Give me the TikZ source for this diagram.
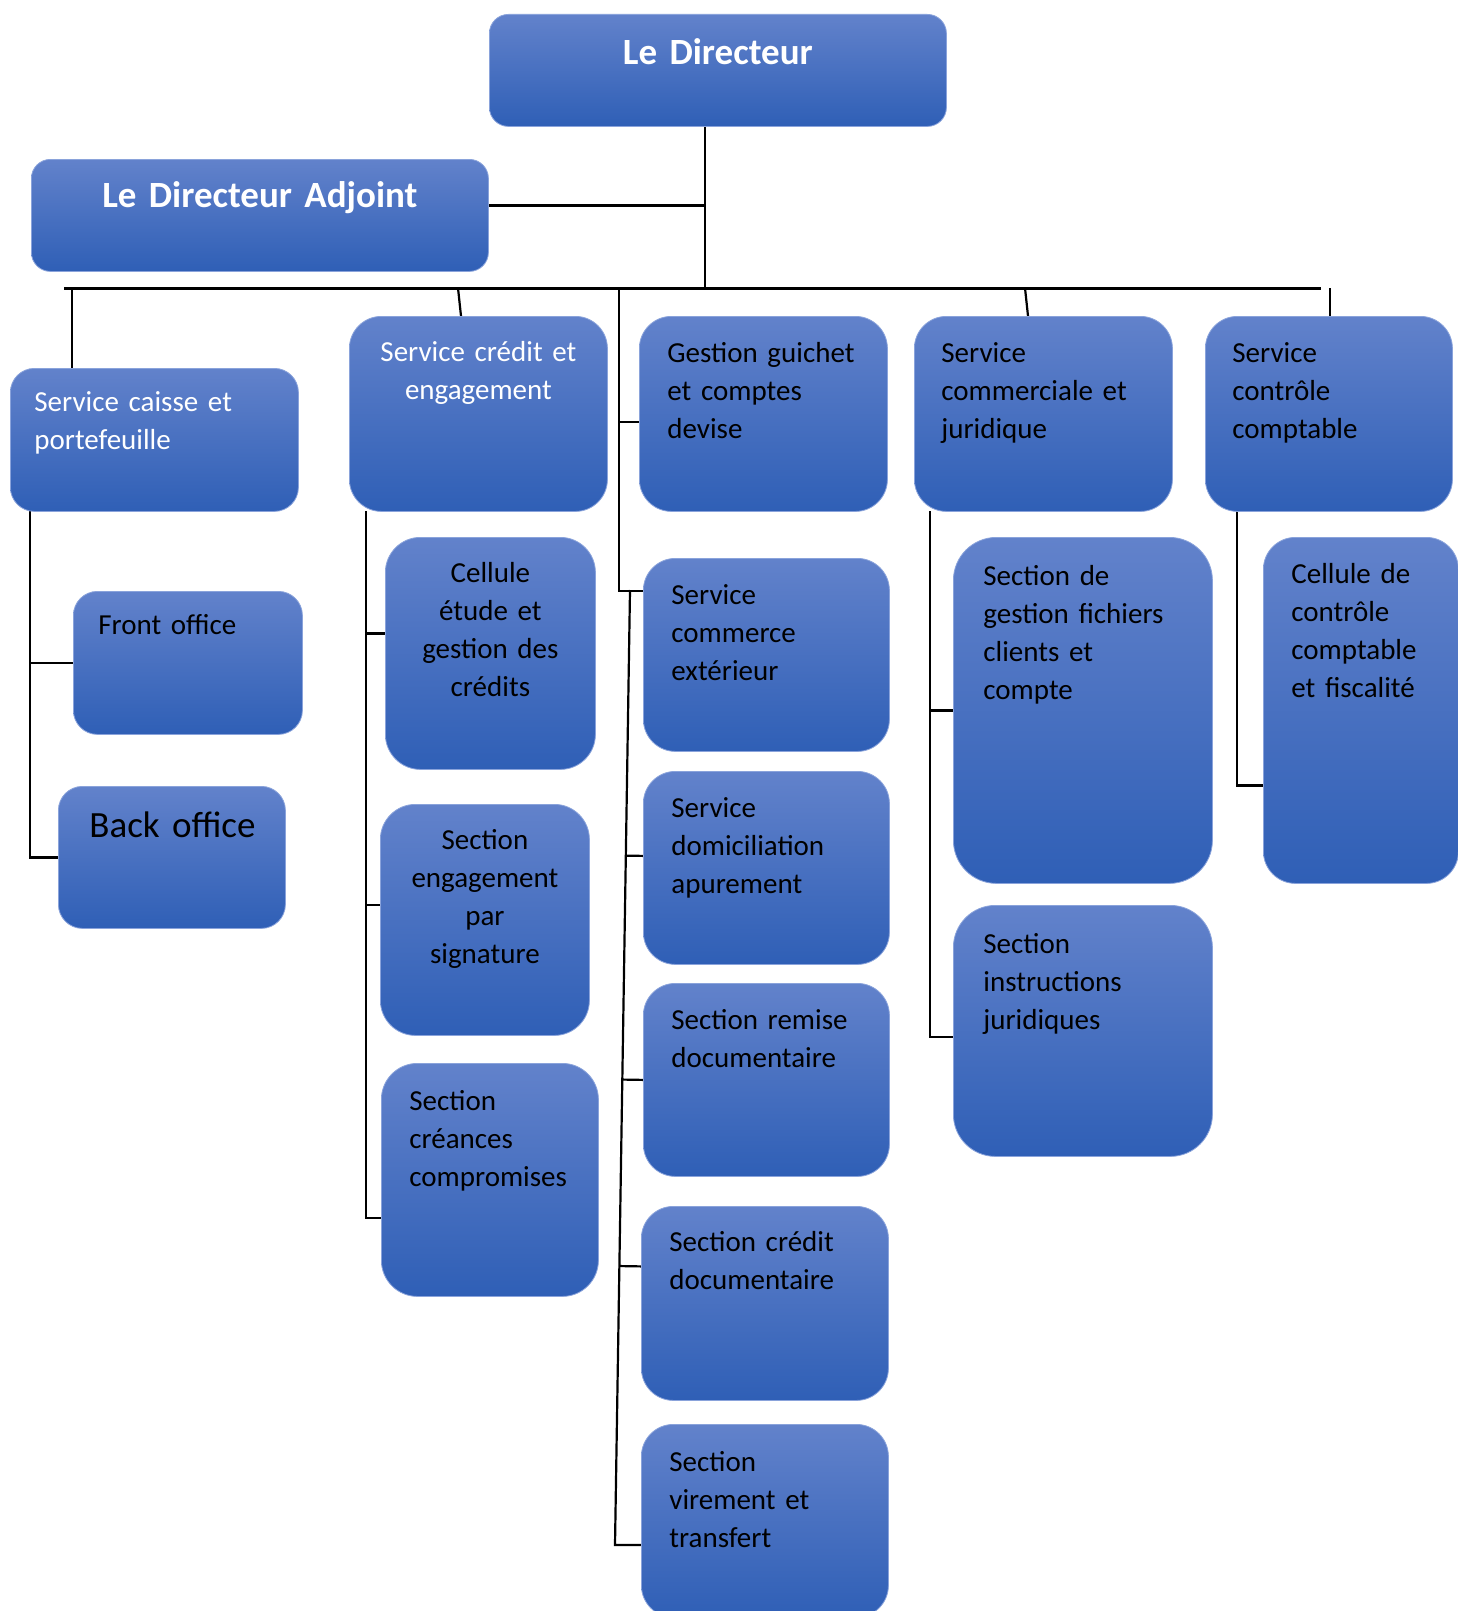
\documentclass[tikz,border=0pt]{standalone}
\usepackage{fontspec}
\setmainfont{Carlito}
\usetikzlibrary{calc}
\usetikzlibrary{backgrounds}

\definecolor{boxtop}{RGB}{98,130,203}
\definecolor{boxmid}{RGB}{62,113,204}
\definecolor{boxbot}{RGB}{47,95,182}
\definecolor{boxrim}{RGB}{138,163,219}

\tikzset{
  unit/.style={anchor=north west, draw=boxrim, line width=0.8pt,
    top color=boxtop, middle color=boxmid, bottom color=boxbot,
    rounded corners=#1, inner ysep=0pt, align=left,
    font=\fontsize{29}{38}\selectfont},
  unit/.default=32pt,
  boxdim/.style n args={4}{text width=#1, inner xsep=#2, text height=#3, text depth=#4},
  head/.style={text=white, align=center, font=\fontsize{37}{44}\selectfont\bfseries},
  link/.style={draw=black, line width=2.2pt}
}

\begin{document}
\begin{tikzpicture}[x=1pt,y=-1pt]
\useasboundingbox (0,0) rectangle (1458,1611);

\node[unit=19pt, head, boxdim={437pt}{10pt}{50pt}{62pt}] (dir) at (489,14) {Le Directeur};
\node[unit=19pt, head, boxdim={437pt}{10pt}{48pt}{64pt}] (adj) at (31,159) {Le Directeur Adjoint};

\node[unit=24pt, text=white, boxdim={240pt}{24pt}{43pt}{100pt}] (caisse) at (10,368) {Service caisse et\\portefeuille};
\node[unit, text=white, align=center, boxdim={238pt}{10pt}{45pt}{150pt}] (credit) at (349,316) {Service crédit et\\engagement};
\node[unit, boxdim={192pt}{28pt}{46pt}{149pt}] (guichet) at (639,316) {Gestion guichet\\et comptes\\devise};
\node[unit, boxdim={204pt}{27pt}{46pt}{149pt}] (commerc) at (914,316) {Service\\commerciale et\\juridique};
\node[unit, boxdim={193pt}{27pt}{46pt}{149pt}] (controle) at (1205,316) {Service\\contrôle\\comptable};

\node[unit=24pt, boxdim={179pt}{25pt}{43pt}{100pt}] (front) at (73,591) {Front office};
\node[unit=24pt, boxdim={165pt}{31pt}{51pt}{91pt}, font=\fontsize{37}{44}\selectfont] (back) at (58,786) {\mbox{Back office}};

\node[unit=35pt, align=center, boxdim={190pt}{10pt}{45pt}{187pt}] (cellule) at (385,537) {Cellule\\étude et\\gestion des\\crédits};
\node[unit=35pt, align=center, boxdim={189pt}{10pt}{45pt}{186pt}] (engag) at (380,804) {Section\\engagement\\par\\signature};
\node[unit=36pt, boxdim={161pt}{28pt}{47pt}{186pt}] (creances) at (381,1063) {Section\\créances\\compromises};

\node[unit, boxdim={190pt}{28pt}{46pt}{147pt}] (commext) at (643,558) {Service\\commerce\\extérieur};
\node[unit, boxdim={190pt}{28pt}{46pt}{147pt}] (domic) at (643,771) {Service\\domiciliation\\apurement};
\node[unit, boxdim={190pt}{28pt}{46pt}{147pt}] (remise) at (643,983) {Section remise\\documentaire};
\node[unit, boxdim={191pt}{28pt}{45pt}{149pt}] (creddoc) at (641,1206) {Section crédit\\documentaire};
\node[unit, boxdim={191pt}{28pt}{47pt}{146pt}] (virement) at (641,1424) {Section\\virement et\\transfert};

\node[unit=43pt, boxdim={199pt}{30pt}{48pt}{298pt}] (fichiers) at (953,537) {Section de\\gestion fichiers\\clients et\\compte};
\node[unit=42pt, boxdim={199pt}{30pt}{48pt}{203pt}] (instr) at (953,905) {Section\\instructions\\juridiques};
\node[unit, boxdim={139pt}{28pt}{46pt}{300pt}] (cellctl) at (1263,537) {Cellule de\\contrôle\\comptable\\et fiscalité};

\begin{scope}[on background layer]
  \fill[white] (0,0) rectangle (1458,1611);
  \coordinate (busL) at (64,288);
  \coordinate (busR) at (1321,288);
  \coordinate (hub) at (705,288);
  \coordinate (d1) at (72,288);
  \coordinate (d2) at (458,288);
  \coordinate (d3) at (619,288);
  \coordinate (d4) at (1025,288);
  \coordinate (d5) at (1330,288);
  \coordinate (s1) at (30,511);
  \coordinate (s2) at (366,511);
  \coordinate (s4) at (930,511);
  \coordinate (s5) at (1237,511);
  \coordinate (g2) at (630,590);
  \coordinate (g3) at (615,1545);
  \coordinate (domic in) at ([yshift=12pt]domic.west);
  \coordinate (creddoc in) at ([yshift=37pt]creddoc.west);

  \begin{scope}[link]
  \draw[line width=3pt] (busL) -- (busR);
  \draw (dir.south -| hub) -- (hub);
  \draw ([yshift=10pt]adj.east) -| (hub);

  \draw (d1) -- (d1 |- caisse.north);
  \draw (d2) -- ([xshift=3pt]d2 |- credit.north);
  \draw (d3) |- ([yshift=64pt]commext.west);
  \draw ([yshift=-8pt]guichet.west) -| (d3);
  \draw (d4) -- ([xshift=3pt]d4 |- commerc.north);
  \draw (d5) -- (d5 |- controle.north);

  \draw (s1) |- (front.west);
  \draw (s1) |- (back.west);
  \draw (s2) |- ([yshift=20pt]cellule.west);
  \draw (s2) |- ([yshift=15pt]engag.west);
  \draw (s2) |- ([yshift=-38pt]creances.west);
  \draw (s4) |- (fichiers.west);
  \draw (s4) |- ([yshift=-6pt]instr.west);
  \draw (s5) |- ([yshift=-75pt]cellctl.west);

  \draw (g2) -- (g3) -- (g3 -| virement.west);
  \draw ($(g2)!(domic in)!(g3)$) -- (domic in);
  \draw ($(g2)!(remise.west)!(g3)$) -- (remise.west);
  \draw ($(g2)!(creddoc in)!(g3)$) -- (creddoc in);
  \end{scope}
\end{scope}
\end{tikzpicture}
\end{document}
